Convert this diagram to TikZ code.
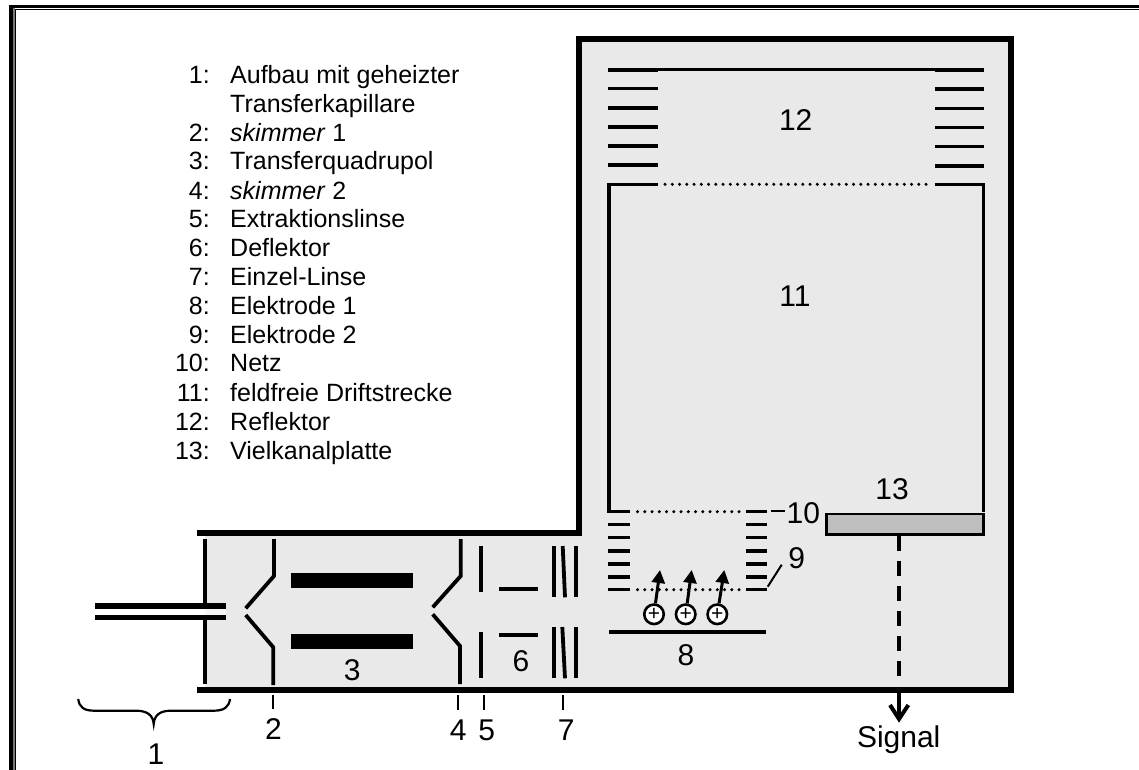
\documentclass[tikz,border=0pt]{standalone}
\usepackage{fontspec}
\setmainfont{Liberation Sans}
\usetikzlibrary{arrows.meta}
\definecolor{chamber}{HTML}{E9E9E9}
\definecolor{plate}{HTML}{BEBEBE}
\definecolor{frameg}{HTML}{777777}
\tikzset{
  wall/.style={line width=6pt,line cap=butt,line join=miter},
  elec/.style={line width=3.8pt,line cap=butt,line join=miter},
  grid/.style={line width=3.4pt,line cap=butt},
  mesh/.style={line width=3.4pt,line cap=round,dash pattern=on 0pt off 7.25pt},
  thin tick/.style={line width=2pt},
  big/.style={inner sep=0pt,anchor=base,font=\fontsize{30}{30}\selectfont},
  listnum/.style={inner sep=0pt,anchor=base east,font=\fontsize{25}{25}\selectfont},
  listtxt/.style={inner sep=0pt,anchor=base west,font=\fontsize{25}{25}\selectfont},
  ion/.style={circle,draw,fill=white,line width=2.6pt,minimum size=19.5pt,inner sep=0pt,font=\fontsize{21}{21}\selectfont},
  ionarrow/.style={line width=3pt,-{Triangle[length=13pt,width=13pt]}},
}
\begin{document}
\begin{tikzpicture}[x=1pt,y=-1pt]
\useasboundingbox (0,0) rectangle (1139,770);
% outer frame
\draw[line width=3.6pt] (11,770) -- (11,6.5) -- (1139,6.5);
\fill[frameg] (12.8,8.3) rectangle (15,770);
\draw[line width=1pt] (15,9.5) -- (1139,9.5);
\draw[line width=0.8pt] (15,9.5) -- (15,770);
% chamber
\fill[chamber] (205,533) -- (578.5,533) -- (578.5,39) -- (1011,39) -- (1011,690) -- (205,690) -- cycle;
\draw[wall] (196.7,533) -- (578.5,533) -- (578.5,39) -- (1011.3,39) -- (1011.3,690) -- (196.7,690);
% capillary and plate
\draw[elec] (205.3,539) -- (205.3,684);
\fill[white] (95,606) rectangle (205,617.3);
\fill[chamber!40!white] (205,606) rectangle (226.3,617.3);
\draw[line width=5.4pt] (95,606) -- (226.3,606);
\draw[line width=5.4pt] (95,617.4) -- (226.3,617.4);
% skimmer 1
\draw[elec] (274,539) -- (274,576) -- (245.7,608.3);
\draw[elec] (245.7,615) -- (273.3,647.3) -- (273.3,685);
% quadrupole
\fill (291.3,573.3) rectangle (413.3,588.3);
\fill (291.3,634.3) rectangle (413.3,649.3);
% skimmer 2
\draw[elec] (460.7,539) -- (460.7,576) -- (432.7,607.3);
\draw[elec] (432.7,614.3) -- (460,646) -- (460,684);
% extraction lens
\draw[elec] (481,546) -- (481,592.3);
\draw[elec] (481,632) -- (481,678.3);
% deflector
\draw[elec] (499,588.7) -- (538.3,588.7);
\draw[elec] (499,634.7) -- (538.3,634.7);
% einzel lens
\draw[elec] (553.7,546) -- (553.7,597.3);
\draw[elec] (562.7,546) -- (565,597.3);
\draw[elec] (575.7,546) -- (575.7,597.3);
\draw[elec] (553.7,627) -- (553.7,678.3);
\draw[elec] (562.3,627) -- (565,678.3);
\draw[elec] (575.7,627) -- (575.7,678.3);
% drift tube
\draw[line width=3.4pt,line join=miter] (630,511.7) -- (609,511.7) -- (609,184.3) -- (658.3,184.3);
\draw[line width=3.4pt,line join=miter] (935,184.3) -- (983.5,184.3) -- (983.5,512);
\draw[mesh] (665,184.3) -- (930,184.3);
% reflector
\draw[line width=3pt] (658,70) -- (935,70);
\foreach \y in {70,88.7,108,127,146,165}{\draw[grid] (608.3,\y) -- (658.3,\y);}
\foreach \y in {70,89,108.3,127.7,146.7,166}{\draw[grid] (935,\y) -- (984,\y);}
% ion source grids
\draw[grid] (746,511.7) -- (766.7,511.7);
\draw[mesh] (637.5,511.7) -- (742,511.7);
\foreach \y in {524.7,537.7,551,564,577,589.7}{
  \draw[grid] (608.3,\y) -- (630,\y);
  \draw[grid] (746,\y) -- (766.7,\y);
}
\draw[mesh] (637.5,589.7) -- (742,589.7);
% electrode 8
\draw[elec] (609.3,632) -- (765.7,632);
% ions
\node[ion] (ionA) at (654,614.3) {\raisebox{-1.5pt}{+}};
\node[ion] (ionB) at (685.7,614.3) {\raisebox{-1.5pt}{+}};
\node[ion] (ionC) at (717.3,614.3) {\raisebox{-1.5pt}{+}};
\coordinate (tipA) at (660,570);
\coordinate (tipB) at (691.7,570);
\coordinate (tipC) at (724.3,570);
\draw[ionarrow] (ionA) -- (tipA);
\draw[ionarrow] (ionB) -- (tipB);
\draw[ionarrow] (ionC) -- (tipC);
% MCP
\node[draw,fill=plate,line width=2.2pt,inner sep=0pt,minimum width=157pt,minimum height=20.4pt,anchor=north west] (mcp) at (825.3,513) {};
% signal
\coordinate (sigA) at (899,536);
\coordinate (sigB) at (899,677);
\coordinate (sigC) at (899,693);
\coordinate (sigD) at (899,719);
\draw[line width=4pt,dash pattern=on 14.5pt off 10.5pt] (sigA) -- (sigB);
\draw[line width=4pt] (sigC) -- (sigD);
\draw[line width=4pt,line join=miter] (890,705) -- (sigD) -- (908.3,705);
% ticks
\draw[thin tick] (273,695) -- (273,709);
\draw[thin tick] (458.3,695) -- (458.3,710);
\draw[thin tick] (484,695) -- (484,710);
\draw[thin tick] (563,695) -- (563,710);
\draw[thin tick] (771,510.7) -- (785,510.7);
\draw[thin tick] (767.7,586.7) -- (781.7,564.7);
% brace
\draw[line width=2.2pt] (78.3,699) .. controls (79,707) and (84,710.7) .. (94,710.7) -- (136,710.7)
  .. controls (147,710.7) and (153,715) .. (153.7,724)
  .. controls (154.4,715) and (160,710.7) .. (171,710.7) -- (214,710.7)
  .. controls (224,710.7) and (229,707) .. (230,699);
% labels
\node[big] (l1) at (156,764) {1};
\node[big] (l2) at (273.5,739.5) {2};
\node[big] (l3) at (352.3,680) {3};
\node[big] (l4) at (458.3,740) {4};
\node[big] (l5) at (486.7,740) {5};
\node[big] (l6) at (521,671) {6};
\node[big] (l7) at (566.3,740) {7};
\node[big] (l8) at (686,665) {8};
\node[big] (l9) at (796.7,568.7) {9};
\node[big] (l10) at (803.3,523.3) {10};
\node[big] (l11) at (795,306.5) {11};
\node[big] (l12) at (795.7,130.7) {12};
\node[big] (l13) at (892,499) {13};
\node[big] (lsig) at (898.7,747.3) {Signal};
% legend
\node[listnum] (n1) at (210,83.3) {1:};
\node[listtxt] (t1) at (230,83.3) {Aufbau mit geheizter};
\node[listtxt] (t1b) at (230,112.7) {Transferkapillare};
\node[listnum] (n2) at (210,141.5) {2:};
\node[listtxt] (t2) at (230,141.5) {\textit{skimmer} 1};
\node[listnum] (n3) at (210,170) {3:};
\node[listtxt] (t3) at (230,170) {Transferquadrupol};
\node[listnum] (n4) at (210,199) {4:};
\node[listtxt] (t4) at (230,199) {\textit{skimmer} 2};
\node[listnum] (n5) at (210,227.7) {5:};
\node[listtxt] (t5) at (230,227.7) {Extraktionslinse};
\node[listnum] (n6) at (210,256.7) {6:};
\node[listtxt] (t6) at (230,256.7) {Deflektor};
\node[listnum] (n7) at (210,285.7) {7:};
\node[listtxt] (t7) at (230,285.7) {Einzel-Linse};
\node[listnum] (n8) at (210,314.3) {8:};
\node[listtxt] (t8) at (230,314.3) {Elektrode 1};
\node[listnum] (n9) at (210,343.3) {9:};
\node[listtxt] (t9) at (230,343.3) {Elektrode 2};
\node[listnum] (n10) at (210,371.7) {10:};
\node[listtxt] (t10) at (230,371.7) {Netz};
\node[listnum] (n11) at (210,401) {11:};
\node[listtxt] (t11) at (230,401) {feldfreie Driftstrecke};
\node[listnum] (n12) at (210,430) {12:};
\node[listtxt] (t12) at (230,430) {Reflektor};
\node[listnum] (n13) at (210,459) {13:};
\node[listtxt] (t13) at (230,459) {Vielkanalplatte};
\end{tikzpicture}
\end{document}
